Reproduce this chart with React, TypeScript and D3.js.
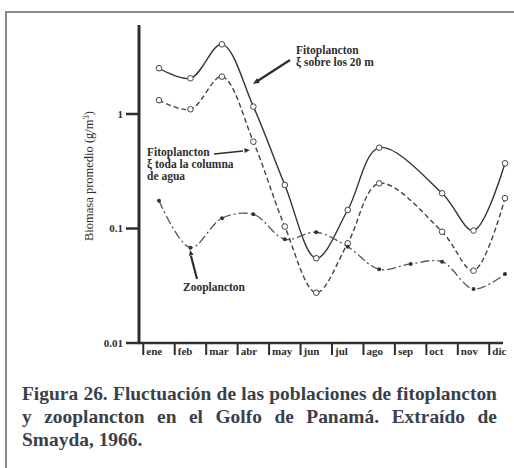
import React from "react";
import * as d3 from "d3";

const months = ["ene", "feb", "mar", "abr", "may", "jun", "jul", "ago", "sep", "oct", "nov", "dic"];
const fitoSobre20: (number | null)[] = [2.51, 2.05, 4.06, 1.16, 0.24, 0.055, 0.145, 0.508, null, 0.203, 0.096, 0.371];
const fitoColumna: (number | null)[] = [1.32, 1.1, 2.12, 0.573, 0.104, 0.0275, 0.0743, 0.248, null, 0.0937, 0.0428, 0.184];
const zooplancton: (number | null)[] = [0.175, 0.068, 0.123, 0.133, 0.0805, 0.0927, 0.0693, 0.044, 0.049, 0.0513, 0.0296, 0.04];
const yTicks = [1, 0.1, 0.01];
const yTickLabels = ["1", "0.1", "0.01"];
const captionLines = [
  "Figura 26. Fluctuación de las poblaciones de fitoplancton",
  "y zooplancton en el Golfo de Panamá. Extraído de",
  "Smayda, 1966.",
];

const SERIF = "Liberation Serif";
const INK = "#2e2e2e";
const CAP_SIZE = 18;
const CAP_STRETCH = 1.08;

function measure(text: string, font: string): number {
  if (typeof document === "undefined") return text.length * 8;
  const c = document.createElement("canvas").getContext("2d");
  if (!c) return text.length * 8;
  c.font = font;
  return c.measureText(text).width;
}

function justify(line: string, width: number) {
  const words = line.split(" ");
  const font = `bold ${CAP_SIZE}px "${SERIF}"`;
  const widths = words.map((w) => measure(w, font));
  const total = widths.reduce((a, b) => a + b, 0);
  const gap = words.length > 1 ? (width - total) / (words.length - 1) : 0;
  let cx = 0;
  return words.map((w, i) => {
    const pos = cx;
    cx += widths[i] + gap;
    return { w, x: pos };
  });
}

export default function App() {
  const x = d3.scalePoint<string>().domain(months).range([159, 505]);
  const y = d3.scaleLog().domain([0.01, 1]).range([343, 114]);
  const step = x.step();

  const mk = (vals: (number | null)[]) =>
    months
      .map((m, i) => ({ m, v: vals[i] }))
      .filter((d) => d.v !== null) as { m: string; v: number }[];

  const line = d3
    .line<{ m: string; v: number }>()
    .x((d) => x(d.m)!)
    .y((d) => y(d.v))
    .curve(d3.curveCatmullRom.alpha(0.5));

  const s1 = mk(fitoSobre20);
  const s2 = mk(fitoColumna);
  const s3 = mk(zooplancton);

  const arrowHead = (x1: number, y1: number, x2: number, y2: number, size = 6) => {
    const a = Math.atan2(y2 - y1, x2 - x1);
    const p1 = [x2 - size * Math.cos(a - 0.4), y2 - size * Math.sin(a - 0.4)];
    const p2 = [x2 - size * Math.cos(a + 0.4), y2 - size * Math.sin(a + 0.4)];
    return `M${x2},${y2}L${p1[0]},${p1[1]}L${p2[0]},${p2[1]}Z`;
  };

  const capW = 475 / CAP_STRETCH;
  const j1 = justify(captionLines[0], capW);
  const j2 = justify(captionLines[1], capW);

  return (
    <svg width={514} height={468} style={{ position: "absolute", left: 0, top: 0, background: "#fff" }}>
      <rect width={514} height={468} fill="#fff" />
      {/* frame */}
      <path d="M6,468V12H514" fill="none" stroke="#8a8a8a" strokeWidth={2} />

      {/* axes */}
      <line x1={139} y1={25} x2={139} y2={344} stroke={INK} strokeWidth={3} />
      <line x1={138} y1={343} x2={503} y2={343} stroke={INK} strokeWidth={2.5} />
      {yTicks.map((t, i) => (
        <g key={t}>
          <line x1={126} y1={y(t)} x2={139} y2={y(t)} stroke={INK} strokeWidth={2.5} />
          <text x={123} y={y(t) + 3.5} textAnchor="end" fontFamily={SERIF} fontSize={11} fontWeight="bold" fill={INK}>
            {yTickLabels[i]}
          </text>
        </g>
      ))}
      {months.map((m) => {
        const tx = x(m)! - step / 2;
        return (
          <g key={m}>
            <line x1={tx} y1={343} x2={tx} y2={355} stroke={INK} strokeWidth={2} />
            <text x={tx + 3} y={355} fontFamily={SERIF} fontSize={11} fontWeight="bold" fill={INK}>
              {m}
            </text>
          </g>
        );
      })}
      <text
        transform="translate(93,176) rotate(-90)"
        textAnchor="middle"
        fontFamily={SERIF}
        fontSize={12.5}
        fill={INK}
      >
        Biomasa promedio (g/m<tspan dy={-4} fontSize={8.5}>3</tspan>
        <tspan dy={4}>)</tspan>
      </text>

      {/* series */}
      <path d={line(s1)!} fill="none" stroke="#333" strokeWidth={1.4} />
      <path d={line(s2)!} fill="none" stroke="#444" strokeWidth={1.4} strokeDasharray="5,3" />
      <path d={line(s3)!} fill="none" stroke="#555" strokeWidth={1.3} strokeDasharray="9,3,2,3" />
      {s1.map((d) => (
        <circle key={"a" + d.m} cx={x(d.m)} cy={y(d.v)} r={2.8} fill="#fff" stroke="#444" strokeWidth={1} />
      ))}
      {s2.map((d) => (
        <circle key={"b" + d.m} cx={x(d.m)} cy={y(d.v)} r={2.8} fill="#fff" stroke="#444" strokeWidth={1} />
      ))}
      {s3.map((d) => (
        <circle key={"c" + d.m} cx={x(d.m)} cy={y(d.v)} r={2} fill="#333" />
      ))}

      {/* annotations */}
      <g fontFamily={SERIF} fontSize={11.5} fontWeight="bold" fill={INK}>
        <text x={296} y={54}>Fitoplancton</text>
        <text x={296} y={66}>ξ sobre los 20 m</text>
        <text x={147} y={156}>Fitoplancton</text>
        <text x={147} y={168}>ξ toda la columna</text>
        <text x={147} y={180}>de agua</text>
        <text x={183} y={291}>Zooplancton</text>
      </g>
      <line x1={290} y1={60} x2={256} y2={82} stroke={INK} strokeWidth={2.2} />
      <path d={arrowHead(290, 60, 253, 84, 7)} fill={INK} />
      <line x1={214} y1={154} x2={243} y2={151} stroke={INK} strokeWidth={1.3} />
      <path d={arrowHead(214, 154, 250, 150, 6)} fill={INK} />
      <line x1={197} y1={279} x2={191} y2={256} stroke={INK} strokeWidth={2.2} />
      <path d={arrowHead(197, 279, 190, 250, 6)} fill={INK} />

      {/* caption */}
      <g
        transform={`translate(22,0) scale(${CAP_STRETCH},1)`}
        fontFamily={SERIF}
        fontSize={CAP_SIZE}
        fontWeight="bold"
        fill="#3a3f4c"
      >
        <text y={400}>
          {j1.map((d, i) => (
            <tspan key={i} x={d.x}>{d.w}</tspan>
          ))}
        </text>
        <text y={423}>
          {j2.map((d, i) => (
            <tspan key={i} x={d.x}>{d.w}</tspan>
          ))}
        </text>
        <text x={0} y={446}>{captionLines[2]}</text>
      </g>
    </svg>
  );
}
